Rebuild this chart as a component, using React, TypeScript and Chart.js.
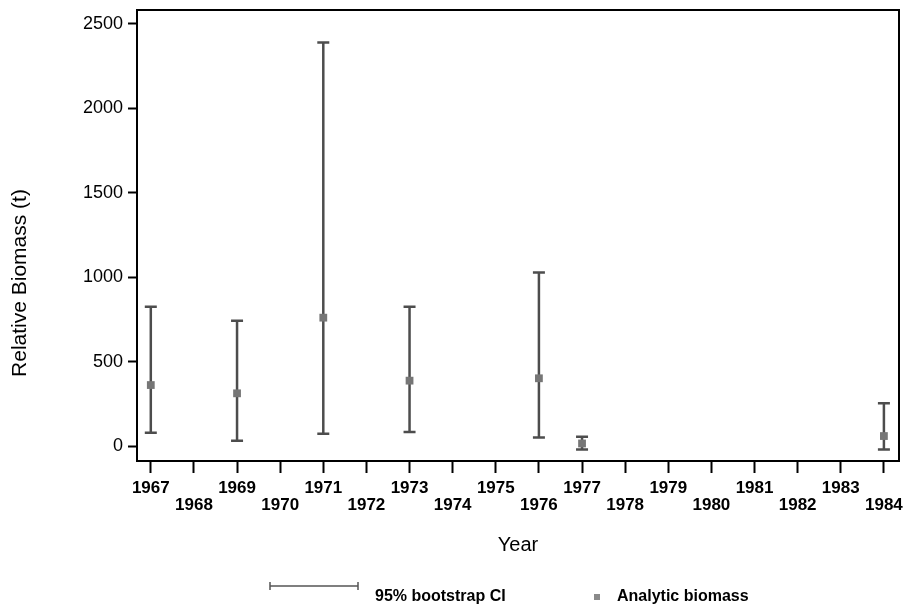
import React, { useEffect, useRef } from "react";
import { Chart, registerables } from "chart.js";

Chart.register(...registerables);

// ---- data ----
const years: number[] = [1967, 1969, 1971, 1973, 1976, 1977, 1984];
const biomass: number[] = [361, 312, 760, 387, 401, 15, 59];
const ciLower: number[] = [79, 31, 73, 83, 51, -20, -20];
const ciUpper: number[] = [825, 742, 2389, 825, 1027, 55, 253];
const yTicks: number[] = [0, 500, 1000, 1500, 2000, 2500];
const xTitle = "Year";
const yTitle = "Relative Biomass (t)";
const legendCI = "95% bootstrap CI";
const legendPoint = "Analytic biomass";

const FONT = "'Liberation Sans', Arial, sans-serif";

const errorBarPlugin = {
  id: "errorBars",
  beforeDatasetsDraw(chart: any) {
    const { ctx, scales } = chart;
    const xs = scales.x;
    const ys = scales.y;
    ctx.save();
    ctx.strokeStyle = "#4d4d4d";
    ctx.lineWidth = 2.5;
    for (let i = 0; i < years.length; i++) {
      const x = xs.getPixelForValue(years[i]);
      const yl = ys.getPixelForValue(ciLower[i]);
      const yu = ys.getPixelForValue(ciUpper[i]);
      ctx.beginPath();
      ctx.moveTo(x, yl);
      ctx.lineTo(x, yu);
      ctx.moveTo(x - 6, yl);
      ctx.lineTo(x + 6, yl);
      ctx.moveTo(x - 6, yu);
      ctx.lineTo(x + 6, yu);
      ctx.stroke();
    }
    ctx.restore();
  },
  afterDraw(chart: any) {
    const { ctx, chartArea } = chart;
    ctx.save();
    // frame top & right
    ctx.strokeStyle = "#000";
    ctx.lineWidth = 2;
    ctx.beginPath();
    ctx.moveTo(chartArea.left - 1, chartArea.top);
    ctx.lineTo(chartArea.right, chartArea.top);
    ctx.lineTo(chartArea.right, chartArea.bottom + 1);
    ctx.stroke();
    // y title
    ctx.save();
    ctx.translate(20, 283);
    ctx.rotate(-Math.PI / 2);
    ctx.fillStyle = "#000";
    ctx.font = `21px ${FONT}`;
    ctx.textAlign = "center";
    ctx.textBaseline = "middle";
    ctx.fillText(yTitle, 0, 0);
    ctx.restore();
    // legend
    const ly = 586;
    ctx.strokeStyle = "#555";
    ctx.lineWidth = 1.5;
    ctx.beginPath();
    ctx.moveTo(270, ly);
    ctx.lineTo(358, ly);
    ctx.moveTo(270, ly - 4);
    ctx.lineTo(270, ly + 4);
    ctx.moveTo(358, ly - 4);
    ctx.lineTo(358, ly + 4);
    ctx.stroke();
    ctx.fillStyle = "#000";
    ctx.font = `bold 16px ${FONT}`;
    ctx.textBaseline = "middle";
    ctx.textAlign = "left";
    ctx.fillText(legendCI, 375, 597);
    ctx.fillStyle = "#8a8a8a";
    ctx.fillRect(594, 594, 6, 6);
    ctx.fillStyle = "#000";
    ctx.fillText(legendPoint, 617, 597);
    ctx.restore();
  },
};

export default function App() {
  const ref = useRef<HTMLCanvasElement | null>(null);
  useEffect(() => {
    if (!ref.current) return;
    const chart = new Chart(ref.current, {
      type: "scatter",
      data: {
        datasets: [
          {
            label: legendPoint,
            data: years.map((y, i) => ({ x: y, y: biomass[i] })),
            pointStyle: "rect",
            pointRadius: 5.5,
            backgroundColor: "#767676",
            borderColor: "#767676",
            borderWidth: 0,
          },
        ],
      },
      options: {
        animation: false,
        responsive: true,
        maintainAspectRatio: false,
        layout: { padding: { left: 0, top: 10, right: 6, bottom: 50 } },
        plugins: {
          legend: { display: false },
          tooltip: { enabled: false },
        },
        scales: {
          x: {
            type: "linear",
            min: 1966.68,
            max: 1984.35,
            afterFit: (s: any) => {
              s.height = 100;
              s.paddingLeft = 0;
              s.paddingRight = 0;
            },
            grid: {
              display: true,
              drawOnChartArea: false,
              tickLength: 12,
              tickWidth: 2,
              tickColor: "#000",
            },
            border: { display: true, color: "#000", width: 2 },
            ticks: {
              stepSize: 1,
              includeBounds: false,
              autoSkip: false,
              maxRotation: 0,
              minRotation: 0,
              color: "#000",
              padding: 7,
              font: { family: FONT, size: 17, weight: "bold", lineHeight: 1.0 },
              callback: (v: any) => {
                const n = Math.round(Number(v));
                const idx = n - 1967;
                return idx % 2 === 0 ? String(n) : ["", String(n)];
              },
            },
            title: {
              display: true,
              text: xTitle,
              color: "#000",
              font: { family: FONT, size: 20, lineHeight: 1.2 },
              padding: { top: 0, bottom: 4 },
            },
          },
          y: {
            type: "linear",
            min: -88.8,
            max: 2582,
            afterFit: (s: any) => {
              s.width = 137;
              s.paddingTop = 0;
              s.paddingBottom = 0;
            },
            afterBuildTicks: (s: any) => {
              s.ticks = yTicks.map((v) => ({ value: v }));
            },
            grid: {
              display: true,
              drawOnChartArea: false,
              tickLength: 9,
              tickWidth: 2,
              tickColor: "#000",
            },
            border: { display: true, color: "#000", width: 2 },
            ticks: {
              color: "#000",
              padding: 5,
              font: { family: FONT, size: 18 },
              callback: (v: any) => String(v),
            },
            title: { display: false },
          },
        },
      },
      plugins: [errorBarPlugin],
    });
    return () => chart.destroy();
  }, []);
  return (
    <div style={{ position: "absolute", left: 0, top: 0, width: 905, height: 611, background: "#fff" }}>
      <canvas ref={ref} />
    </div>
  );
}
